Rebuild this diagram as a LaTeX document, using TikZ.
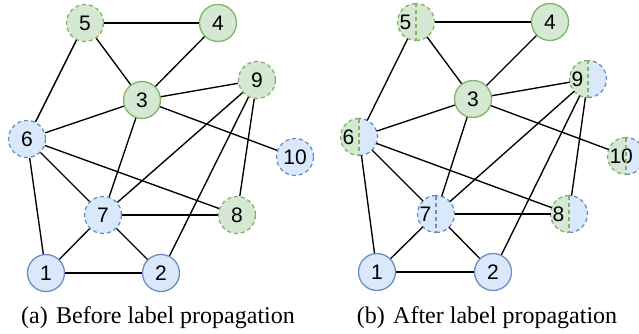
\documentclass[tikz,border=0pt]{standalone}
\usepackage{fontspec}
\setmainfont{Liberation Serif}
\newfontfamily\digitfont{Liberation Sans}
\usetikzlibrary{positioning}
\definecolor{gfill}{HTML}{D5E8D4}
\definecolor{gline}{HTML}{82B366}
\definecolor{bfill}{HTML}{DAE8FC}
\definecolor{bline}{HTML}{6C8EBF}

\begin{document}
\begin{tikzpicture}[x=1pt, y=-1pt,
    main/.style = {circle, minimum size=37pt, inner sep=0pt, line width=1.3pt, font=\digitfont\fontsize{21}{21}\selectfont},
    grn/.style = {main, draw=gline, fill=gfill},
    blu/.style = {main, draw=bline, fill=bfill},
    dsh/.style = {dash pattern=on 4pt off 3pt},
    half/.style 2 args = {main, outer sep=0pt, fill=#2, path picture={\fill[#1] (path picture bounding box.south west) rectangle (path picture bounding box.north);}},
    conn/.style = {line width=1.35pt},
    caption/.style = {font=\fontsize{24}{24}\selectfont}]
    \useasboundingbox (0,0) rectangle (639,334);

    % (a) before
    \node[blu]     (a1)  at (46,273)  {1};
    \node[blu]     (a2)  at (161,273) {2};
    \node[grn]     (a3)  at (142,100) {3};
    \node[grn]     (a4)  at (218,23)  {4};
    \node[grn,dsh] (a5)  at (85,23)   {5};
    \node[blu,dsh] (a6)  at (27,139)  {6};
    \node[blu,dsh] (a7)  at (103,215) {7};
    \node[grn,dsh] (a8)  at (237,215) {8};
    \node[grn,dsh] (a9)  at (257,80)  {9};
    \node[blu,dsh] (a10) at (295,157) {10};

    % (b) after
    \node[blu]            (b1)  at (377,272) {1};
    \node[blu]            (b2)  at (493,272) {2};
    \node[grn]            (b3)  at (473,99)  {3};
    \node[grn]            (b4)  at (550,22)  {4};
    \node[half={gfill}{gfill}] (b5)  at (416,22)  {\makebox[33pt][l]{5}};
    \node[half={gfill}{bfill}] (b6)  at (359,137) {\makebox[33pt][l]{6}};
    \node[half={bfill}{bfill}] (b7)  at (436,214) {\makebox[33pt][l]{7}};
    \node[half={gfill}{bfill}] (b8)  at (569,214) {\makebox[33pt][l]{8}};
    \node[half={gfill}{bfill}] (b9)  at (588,79)  {\makebox[33pt][l]{9}};
    \node[half={gfill}{bfill}] (b10) at (626,156) {\makebox[33pt][l]{10}};

    % split borders
    \foreach \n/\l/\r in {b5/gline/gline, b6/gline/bline, b7/bline/bline, b8/gline/bline, b9/gline/bline, b10/gline/bline}{
        \draw[\l, line width=1.3pt, dsh] (\n.north) arc (90:270:18.5pt);
        \draw[\r, line width=1.3pt, dsh] (\n.south) arc (-90:90:18.5pt);
        \draw[\l, line width=1.3pt, dsh] (\n.north) -- (\n.south);
    }

    \foreach \s in {a, b}{
        \path[conn]
        (\s5) edge (\s4)
        (\s5) edge (\s3)
        (\s5) edge (\s6)
        (\s4) edge (\s3)
        (\s3) edge (\s9)
        (\s3) edge (\s6)
        (\s3) edge (\s7)
        (\s3) edge (\s10)
        (\s9) edge (\s7)
        (\s9) edge (\s2)
        (\s9) edge (\s8)
        (\s6) edge (\s8)
        (\s6) edge (\s7)
        (\s6) edge (\s1)
        (\s7) edge (\s8)
        (\s7) edge (\s1)
        (\s7) edge (\s2)
        (\s1) edge (\s2);
    }

    \node[caption] (capa) at (158,318) {(a)\hspace{0.35em}Before label propagation};
    \node[caption] (capb) at (487,318) {(b)\hspace{0.35em}After label propagation};
\end{tikzpicture}
\end{document}
